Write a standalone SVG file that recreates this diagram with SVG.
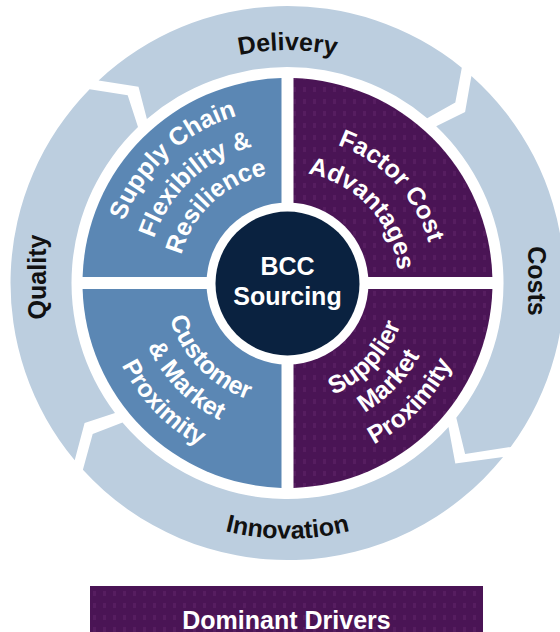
<svg xmlns="http://www.w3.org/2000/svg" width="560" height="632" viewBox="0 0 560 632">
  <defs>
    <style>
      .ring { fill: #BCCEDF; }
      .blue { fill: #5B87B4; }
      .purple { fill: url(#dots); }
      .ringlabel { font-family: "Liberation Sans", Arial, sans-serif; font-weight: bold; font-size: 25px; fill: #111111; }
      .qlabel { font-family: "Liberation Sans", Arial, sans-serif; font-weight: bold; font-size: 25px; fill: #FFFFFF; }
    </style>
    <!-- faint dash texture on the purple fills -->
    <pattern id="dots" width="10" height="12" patternUnits="userSpaceOnUse">
      <rect width="10" height="12" fill="#4A1455"/>
      <rect x="3" y="3" width="3" height="5" fill="#561D60"/>
    </pattern>
    <!-- baselines for curved labels (centre 287.5,283) -->
    <path id="arcDelivery" d="M55.4,262.7 A233,233 0 0 1 519.6,262.7"/>
    <path id="arcInnovation" d="M32.5,305.3 A256,256 0 0 0 542.5,305.3"/>
    <path id="arcUL1" d="M149.6,390.7 A175,175 0 0 1 404.6,153.0"/>
    <path id="arcUL2" d="M176.4,369.8 A141,141 0 0 1 381.8,178.2"/>
    <path id="arcUL3" d="M200.8,350.7 A110,110 0 0 1 361.1,201.3"/>
    <path id="arcUR1" d="M197.0,167.2 A147,147 0 0 1 396.7,381.4"/>
    <path id="arcUR2" d="M219.2,195.5 A111,111 0 0 1 370.0,357.3"/>
    <path id="arcLL1" d="M194.7,202.3 A123,123 0 0 0 364.9,378.6"/>
    <path id="arcLL2" d="M172.0,182.6 A153,153 0 0 0 383.8,401.9"/>
    <path id="arcLL3" d="M147.9,161.6 A185,185 0 0 0 403.9,426.8"/>
    <path id="arcLR1" d="M211.4,377.0 A121,121 0 0 0 378.8,203.6"/>
    <path id="arcLR2" d="M192.5,400.3 A151,151 0 0 0 401.5,183.9"/>
    <path id="arcLR3" d="M172.3,425.2 A183,183 0 0 0 425.6,162.9"/>
  </defs>

  <rect width="560" height="632" fill="#FFFFFF"/>

  <!-- outer cycle of four arrow segments -->
  <g id="seg-delivery">
    <path class="ring" d="M98.6,80.4 A277,277 0 0 1 461.8,67.7 L455.3,102.4 L427.2,118.3 A216,216 0 0 0 146.9,119.0 L138.5,86.7 Z"/>
    <text class="ringlabel" text-anchor="middle"><textPath href="#arcDelivery" startOffset="50%">Delivery</textPath></text>
  </g>
  <g id="seg-costs">
    <path class="ring" d="M471.4,75.9 A277,277 0 0 1 510.7,447.0 L465.1,453.9 L456.3,417.8 A216,216 0 0 0 436.2,126.3 L465.1,112.1 Z"/>
    <text class="ringlabel" text-anchor="middle" transform="translate(528,281) rotate(90)">Costs</text>
  </g>
  <g id="seg-innovation">
    <path class="ring" d="M503.1,457.0 A277,277 0 0 1 82.9,469.8 L92.7,434.1 L122.5,422.4 A216,216 0 0 0 448.5,427.0 L455.3,463.6 Z"/>
    <text class="ringlabel" text-anchor="middle"><textPath href="#arcInnovation" startOffset="50%">Innovation</textPath></text>
  </g>
  <g id="seg-quality">
    <path class="ring" d="M74.7,460.3 A277,277 0 0 1 89.6,89.2 L127.7,95.3 L138.0,127.1 A216,216 0 0 0 115.0,413.0 L84.6,423.0 Z"/>
    <text class="ringlabel" text-anchor="middle" transform="translate(46,277) rotate(-90)">Quality</text>
  </g>

  <!-- four quadrants -->
  <g id="q-supply-chain">
    <path class="blue" d="M281.5,277 L281.5,78.1 A205,205 0 0 0 82.6,277 Z"/>
    <text class="qlabel" text-anchor="middle"><textPath href="#arcUL1" startOffset="50%">Supply Chain</textPath></text>
    <text class="qlabel" text-anchor="middle"><textPath href="#arcUL2" startOffset="50%">Flexibility &amp;</textPath></text>
    <text class="qlabel" text-anchor="middle"><textPath href="#arcUL3" startOffset="50%">Resilience</textPath></text>
  </g>
  <g id="q-factor-cost">
    <path class="purple" d="M293.5,277 L492.4,277 A205,205 0 0 0 293.5,78.1 Z"/>
    <text class="qlabel" text-anchor="middle"><textPath href="#arcUR1" startOffset="50%">Factor Cost</textPath></text>
    <text class="qlabel" text-anchor="middle"><textPath href="#arcUR2" startOffset="50%">Advantages</textPath></text>
  </g>
  <g id="q-customer">
    <path class="blue" d="M281.5,289 L82.6,289 A205,205 0 0 0 281.5,487.9 Z"/>
    <text class="qlabel" text-anchor="middle"><textPath href="#arcLL1" startOffset="50%">Customer</textPath></text>
    <text class="qlabel" text-anchor="middle"><textPath href="#arcLL2" startOffset="50%">&amp; Market</textPath></text>
    <text class="qlabel" text-anchor="middle"><textPath href="#arcLL3" startOffset="50%">Proximity</textPath></text>
  </g>
  <g id="q-supplier">
    <path class="purple" d="M293.5,289 L293.5,487.9 A205,205 0 0 0 492.4,289 Z"/>
    <text class="qlabel" text-anchor="middle"><textPath href="#arcLR1" startOffset="50%">Supplier</textPath></text>
    <text class="qlabel" text-anchor="middle"><textPath href="#arcLR2" startOffset="50%">Market</textPath></text>
    <text class="qlabel" text-anchor="middle"><textPath href="#arcLR3" startOffset="50%">Proximity</textPath></text>
  </g>

  <!-- hub -->
  <g id="hub">
    <circle cx="287.5" cy="283.5" r="81" fill="#FFFFFF"/>
    <circle cx="287.5" cy="283.5" r="72" fill="#0A2240"/>
    <text class="qlabel" x="287.5" y="275" text-anchor="middle">BCC</text>
    <text class="qlabel" x="287.5" y="305" text-anchor="middle">Sourcing</text>
  </g>

  <!-- legend banner -->
  <g id="legend">
    <rect x="90" y="586" width="393" height="50" fill="url(#dots)"/>
    <text class="qlabel" x="286.5" y="629" text-anchor="middle">Dominant Drivers</text>
  </g>
</svg>
